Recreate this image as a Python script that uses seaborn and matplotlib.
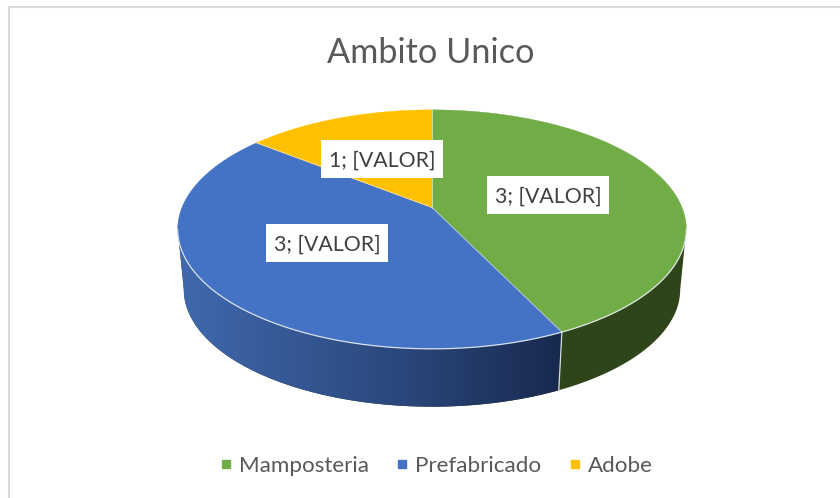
import numpy as np
import matplotlib
matplotlib.use('Agg')
import matplotlib.pyplot as plt
from matplotlib.colors import LinearSegmentedColormap
from matplotlib.lines import Line2D
from matplotlib.patches import Polygon, Rectangle
import seaborn as sns

categories = ['Mamposteria', 'Prefabricado', 'Adobe']
values = [3, 3, 1]
label_texts = ['3; [VALOR]', '3; [VALOR]', '1; [VALOR]']
title = 'Ambito Unico'

sns.set_theme(style='white')
plt.rcParams['font.family'] = ['Lato', 'DejaVu Sans']

TEXT = '#595959'
LABEL = '#404040'
colors = sns.color_palette(['#70AD47', '#4472C4', '#FFC000'])

# geometria del pie 3D (pixeles de la imagen)
CX = 432
TOP_CY, BOT_CY = 207.5, 268
TOP_A, TOP_B = 115.5, 250
BOT_A, BOT_B = 113.3, 244
K = 0.183


def project(t, cy=TOP_CY, a=TOP_A, b=TOP_B):
    # t en radianes, sentido horario desde arriba, con perspectiva
    x = np.sin(t)
    y = np.cos(t)
    d = 1 + K * y
    return CX + b * x / d, cy - a * y / d


fig = plt.figure(figsize=(8.4, 4.98), dpi=100)
ax = fig.add_axes([0, 0, 1, 1])
ax.axis('off')

# marco del grafico
ax.add_patch(Rectangle((9, 7), 860, 520, fc='white', ec='#D9D9D9', lw=1.5, zorder=0))

edges = np.cumsum([0] + values) / sum(values) * 2 * np.pi
t_side = np.arccos(-K)
blue_wall = LinearSegmentedColormap.from_list(
    'blue_wall', [(0, '#406AB0'), (0.6, '#2A467A'), (1, '#18294E')])

# paredes (solo la parte visible de cada porcion)
for i in range(len(values)):
    lo = max(edges[i], t_side)
    hi = min(edges[i + 1], 2 * np.pi - t_side)
    if lo >= hi:
        continue
    ts = np.linspace(lo, hi, 200)
    xt, yt = project(ts)
    xb, yb = project(ts, cy=BOT_CY, a=BOT_A, b=BOT_B)
    wall = Polygon(np.c_[np.r_[xt, xb[::-1]], np.r_[yt, yb[::-1]]], fc='#2E4519', ec='none', zorder=1)
    ax.add_patch(wall)
    if i == 1:
        # degradado horizontal de la pared azul
        img = ax.imshow(np.linspace(0, 1, 256)[None, :], cmap=blue_wall, aspect='auto',
                        extent=(172, 564, 420, 200), zorder=1.5, interpolation='bilinear')
        img.set_clip_path(wall)

ax.set_xlim(0, 840)
ax.set_ylim(498, 0)

# cara superior
for i in range(len(values)):
    ts = np.linspace(edges[i], edges[i + 1], 200)
    xs, ys = project(ts)
    ax.fill(np.r_[CX, xs], np.r_[TOP_CY, ys], color=colors[i], lw=0.3, zorder=2)

# brillos en los bordes
ts = np.linspace(t_side, 2 * np.pi - t_side, 200)
xs, ys = project(ts)
ax.plot(xs, ys, color='#E8EDF2', lw=0.9, alpha=0.9, zorder=3)
for e in edges[:-1]:
    x0, y0 = project(e)
    ax.plot([CX, x0], [TOP_CY, y0], color='white', lw=0.7, alpha=0.55, zorder=3)
x0, y0 = project(edges[1])
x1, y1 = project(edges[1], cy=BOT_CY, a=BOT_A, b=BOT_B)
ax.plot([x0, x1], [y0, y1], color='#E8EDF2', lw=0.9, alpha=0.9, zorder=3)

# etiquetas
boxes = [(487, 176), (266, 224), (321, 140)]
for (bx, by), txt in zip(boxes, label_texts):
    ax.add_patch(Rectangle((bx, by), 122, 38, fc='white', ec='none', zorder=4))
    ax.text(bx + 61, by + 21, txt, ha='center', va='center', fontsize=15.3, color=LABEL, zorder=5)

ax.text(430.5, 53, title, ha='center', va='center', fontsize=24.7, color=TEXT)

handles = [Line2D([], [], marker='s', ls='none', ms=5.8, color=c) for c in colors]
ax.legend(handles, categories, loc='center', bbox_to_anchor=(436 / 840, 1 - 465.5 / 498), ncol=3,
          frameon=False, fontsize=16.1, labelcolor=TEXT, handlelength=0.6,
          handletextpad=0.28, columnspacing=1.18)

fig.savefig('out.png', dpi=100)
plt.close(fig)
